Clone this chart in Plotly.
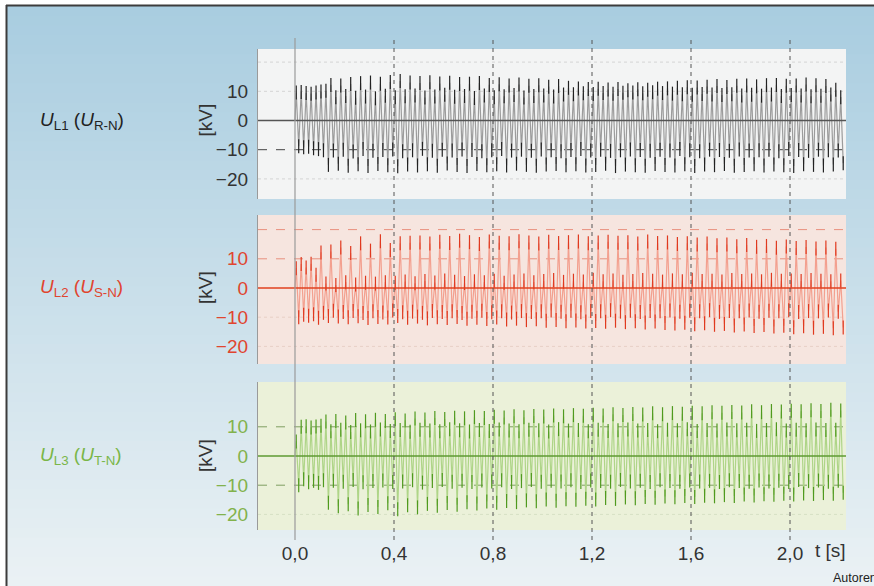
import plotly.graph_objects as go

# ---------------- data ----------------
CYCLE = 0.02  # s, one 50 Hz period

x_tickvals = [0.0, 0.4, 0.8, 1.2, 1.6, 2.0]
x_ticktext = ["0,0", "0,4", "0,8", "1,2", "1,6", "2,0"]
y_tickvals = [-20, -10, 0, 10]
y_ticktext = ["−20", "−10", "0", "10"]

labels = ["<i>U</i><sub>L1</sub> (<i>U</i><sub>R-N</sub>)",
          "<i>U</i><sub>L2</sub> (<i>U</i><sub>S-N</sub>)",
          "<i>U</i><sub>L3</sub> (<i>U</i><sub>T-N</sub>)"]

# per-cycle positive peaks and negative troughs [kV]
pk1 = [9.6, 9.8, 9.4, 9.2, 9.6, 9.9, 10.2,
       12.2, 8.0, 12.0, 8.4, 12.5, 7.8, 12.8, 8.2, 13.0, 7.6,
       12.6, 8.5, 13.2, 8.0, 13.5, 8.3, 13.0, 8.6, 12.8, 7.9,
       13.1, 8.2, 12.7, 8.8, 12.9, 8.1, 12.5, 8.4, 12.6, 7.7,
       12.8, 8.6, 12.2, 8.0, 12.4, 8.3, 12.0, 8.7, 12.3, 7.9,
       11.9, 8.4, 12.1, 8.6, 11.6, 8.2, 11.8, 8.9, 11.2, 9.0,
       11.0, 9.3, 10.8, 9.1, 10.9, 9.4, 10.6, 9.2, 10.8, 9.5,
       10.4, 9.6, 10.7, 9.3, 10.5, 9.7, 10.9, 9.4, 11.0, 9.2,
       11.2, 9.0, 11.4, 8.8, 11.3, 9.1, 11.6, 8.9, 11.8, 8.7,
       11.5, 9.0, 11.9, 8.6, 12.0, 8.8, 11.7, 8.5, 12.1, 8.9,
       12.2, 8.4, 11.9, 8.7, 12.0, 8.6, 12.3, 8.3, 12.1, 8.5,
       11.8, 8.9, 10.5, 8.0]
tr1 = [-8.8, -9.2, -9.0, -9.5, -9.8, -10.2,
       -15.2, -10.3, -14.8, -10.0, -15.5, -10.6, -15.0, -9.8, -15.6, -10.4,
       -14.9, -10.1, -15.3, -9.9, -15.7, -10.5, -15.1, -10.2, -15.4, -9.7,
       -15.0, -10.4, -15.5, -10.0, -14.7, -10.3, -15.2, -9.9, -15.6, -10.1,
       -14.9, -10.5, -15.3, -10.2, -15.0, -9.8, -15.4, -10.3, -14.8, -10.0,
       -15.2, -10.4, -15.5, -9.9, -15.1, -10.2, -14.9, -10.5, -15.3, -10.1,
       -15.0, -9.8, -15.4, -10.3, -15.2, -10.0, -14.8, -10.4, -15.6, -10.2,
       -15.1, -9.9, -15.3, -10.1, -15.5, -10.4, -14.9, -10.0, -15.2, -10.3,
       -15.4, -9.8, -15.0, -10.2, -15.6, -10.5, -15.1, -10.0, -15.3, -10.1,
       -14.9, -10.4, -15.5, -9.9, -15.2, -10.3, -15.0, -10.2, -15.4, -10.0,
       -15.1, -10.5, -15.3, -9.8, -15.6, -10.1, -15.0, -10.4, -15.2, -10.0,
       -15.4, -10.2, -15.1, -10.3, -14.6]

pk2 = [6.8, 8.2, 7.0, 8.3, 4.5,
       12.2, 1.5, 12.5, 1.0, 13.9, 2.0, 12.0, 1.2, 15.3, 1.8,
       12.8, 1.5, 16.0, 2.0, 13.0, 1.8, 15.3, 2.2, 15.5, 1.6,
       15.6, 2.4, 15.2, 1.9, 15.8, 2.6, 15.4, 2.1, 16.2, 1.7,
       15.7, 2.3, 15.1, 2.0, 15.9, 2.5, 15.5, 1.8, 15.3, 2.2,
       16.0, 2.6, 15.6, 2.0, 15.2, 2.4, 15.8, 2.7, 15.4, 2.1,
       15.7, 2.5, 15.9, 2.2, 15.3, 2.8, 15.6, 2.3, 15.8, 2.6,
       15.5, 2.1, 15.7, 2.4, 15.2, 2.7, 15.9, 2.5, 15.4, 2.2,
       15.6, 2.6, 15.1, 2.3, 15.3, 2.8, 14.9, 2.4, 15.2, 2.5,
       14.6, 2.2, 14.9, 2.7, 14.3, 2.4, 14.7, 2.6, 14.1, 2.3,
       14.4, 2.8, 13.8, 2.5, 14.2, 2.6, 13.7, 2.4, 14.0, 2.7,
       13.5, 2.5, 13.9, 2.3, 13.4, 2.6]
tr2 = [-10.0, -9.2, -9.5, -9.0, -10.2,
       -8.5, -9.6, -7.8, -9.8, -8.2, -10.0, -7.9, -9.7, -8.6, -10.3,
       -8.0, -9.9, -8.4, -10.1, -7.7, -9.6, -8.3, -10.2, -8.1, -9.8,
       -8.5, -10.4, -7.9, -10.0, -8.2, -10.3, -8.0, -9.9, -8.6, -10.5,
       -8.1, -10.2, -7.8, -10.6, -8.3, -10.1, -8.0, -10.8, -8.4, -10.5,
       -7.9, -11.0, -8.2, -10.7, -8.0, -11.2, -7.7, -11.0, -8.1, -11.4,
       -7.8, -11.1, -8.3, -11.5, -7.9, -11.3, -8.0, -11.6, -7.6, -11.2,
       -8.1, -11.7, -7.8, -11.4, -8.2, -11.8, -7.9, -11.5, -8.0, -12.0,
       -7.7, -12.2, -8.1, -11.9, -7.8, -12.4, -8.0, -12.1, -7.6, -12.6,
       -8.2, -12.3, -7.9, -12.8, -8.0, -12.5, -7.7, -13.0, -8.1, -12.7,
       -7.8, -13.2, -8.0, -12.9, -7.6, -13.4, -8.2, -13.1, -7.9, -13.6,
       -8.0, -13.3, -7.7, -13.8, -8.1, -13.5]

pk3 = [5.0, 10.0, 10.2, 9.8, 10.1, 10.4,
       11.8, 8.5, 12.0, 9.0, 11.5, 8.2, 12.3, 8.8, 11.9, 8.4,
       12.4, 9.1, 12.0, 8.6, 12.6, 8.9, 12.2, 8.3, 12.8, 9.0,
       12.5, 8.7, 13.0, 8.5, 12.7, 9.2, 13.1, 8.8, 12.9, 8.4,
       13.3, 8.9, 13.0, 8.6, 13.4, 9.1, 13.2, 8.7, 13.6, 8.5,
       13.3, 9.0, 13.7, 8.8, 13.5, 8.4, 13.9, 9.2, 13.6, 8.7,
       14.0, 8.9, 13.8, 8.5, 14.1, 9.0, 13.9, 8.6, 14.3, 8.8,
       14.0, 9.1, 14.4, 8.7, 14.2, 8.9, 14.6, 8.5, 14.3, 9.0,
       14.7, 8.8, 14.5, 9.2, 14.8, 8.6, 14.6, 8.9, 15.0, 8.7,
       14.8, 9.1, 15.1, 8.8, 14.9, 9.0, 15.3, 8.6, 15.0, 8.9,
       15.4, 9.2, 15.2, 8.7, 15.5, 9.0, 15.3, 8.8, 15.7, 9.1,
       15.4, 8.9, 15.8, 9.0, 15.6]
tr3 = [-10.0, -8.0, -9.0, -8.5, -9.2, -8.3,
       -16.0, -8.5, -17.2, -8.8, -16.5, -8.2, -18.0, -9.0, -16.8, -8.6,
       -17.5, -8.4, -16.2, -8.9, -18.2, -8.7, -16.9, -8.3, -17.6, -9.1,
       -16.4, -8.6, -17.0, -8.2, -16.1, -8.8, -16.7, -8.5, -15.8, -8.9,
       -16.3, -8.4, -15.6, -8.7, -16.0, -8.3, -15.4, -8.9, -15.8, -8.6,
       -15.2, -8.2, -15.5, -8.8, -14.9, -8.5, -15.3, -8.7, -14.8, -8.3,
       -15.0, -8.9, -14.6, -8.4, -14.9, -8.6, -14.4, -8.8, -14.7, -8.2,
       -14.2, -8.7, -14.5, -8.5, -14.0, -8.9, -14.3, -8.3, -13.9, -8.6,
       -14.1, -8.8, -13.7, -8.4, -14.0, -8.7, -13.6, -8.5, -13.8, -8.9,
       -13.4, -8.3, -13.7, -8.6, -13.2, -8.8, -13.5, -8.4, -13.1, -8.7,
       -13.3, -8.5, -12.9, -8.9, -13.2, -8.2, -12.8, -8.6, -13.0, -8.4,
       -12.7, -8.8, -12.9, -8.5, -12.6]

# ---------------- layout geometry / styles ----------------
W, H = 874, 586
PX_LEFT, PX_RIGHT = 258, 846
PX_T0, PX_PER_S = 295, 247.5
panel_top = [49, 215, 382]
panel_bot = [199, 364, 530]
panel_zero = [120.5, 288, 456]
PX_PER_KV = 2.92

panel_bg = ["#f3f4f4", "#f6e5df", "#ebf1d9"]
line_col = ["#9c9c9c", "#f3a08f", "#afd588"]
tip_col = ["#222222", "#e0391f", "#4f9a1e"]
tick_col = ["#333333", "#e0452f", "#82b24c"]
label_col = ["#222222", "#e0452f", "#7ab648"]
zero_col = ["#555555", "#e0401f", "#5e9a32"]
dash_col = ["#444444", "#e8907e", "#7f9f62"]
faint_col = ["#d4d4d4", "#e8cfc6", "#d6e0c4"]
FONT = "Liberation Sans, Arial, sans-serif"


def py(p):
    return 1 - p / H


def px(p):
    return p / W


fig = go.Figure()

series = [(pk1, tr1), (pk2, tr2), (pk3, tr3)]
for k, (pk, tr) in enumerate(series):
    xs, ys = [0.0], [0.0]
    for i in range(len(pk)):
        xs += [i * CYCLE + 0.005, i * CYCLE + 0.015]
        ys += [pk[i], tr[i]]
    yname = "y" if k == 0 else f"y{k + 1}"
    fig.add_trace(go.Scatter(x=xs, y=ys, mode="lines", xaxis="x", yaxis=yname,
                             line=dict(color=line_col[k], width=1.2),
                             hoverinfo="skip", showlegend=False))
    fig.add_trace(go.Scatter(x=xs[1:], y=ys[1:], mode="markers", xaxis="x", yaxis=yname,
                             marker=dict(symbol="line-ns", size=10,
                                         line=dict(color=tip_col[k], width=1.2)),
                             hoverinfo="skip", showlegend=False))

shapes = []
# background gradient (stripes)
top_rgb = (169, 205, 224)
bot_rgb = (234, 241, 244)
NS = 60
y_start, y_end = 6, H
for s in range(NS):
    f = s / (NS - 1)
    c = tuple(int(round(top_rgb[j] + (bot_rgb[j] - top_rgb[j]) * f)) for j in range(3))
    y0 = y_start + (y_end - y_start) * s / NS
    y1 = y_start + (y_end - y_start) * (s + 1) / NS + 0.6
    shapes.append(dict(type="rect", xref="paper", yref="paper", layer="below",
                       x0=px(7), x1=1.0, y0=py(min(y1, H)), y1=py(y0),
                       fillcolor="rgb(%d,%d,%d)" % c, line=dict(width=0)))
# frame
shapes.append(dict(type="line", xref="paper", yref="paper", layer="above",
                   x0=px(6), x1=1.0, y0=py(5.5), y1=py(5.5),
                   line=dict(color="#3c3c3c", width=2)))
shapes.append(dict(type="line", xref="paper", yref="paper", layer="above",
                   x0=px(6.5), x1=px(6.5), y0=0, y1=py(5),
                   line=dict(color="#3c3c3c", width=2)))

layout_axes = {}
for k in range(3):
    yname = "y" if k == 0 else f"y{k + 1}"
    ax = "yaxis" if k == 0 else f"yaxis{k + 1}"
    rng = [-(panel_bot[k] - panel_zero[k]) / PX_PER_KV, (panel_zero[k] - panel_top[k]) / PX_PER_KV]
    layout_axes[ax] = dict(domain=[py(panel_bot[k]), py(panel_top[k])], range=rng, anchor="x",
                           tickvals=y_tickvals, ticktext=y_ticktext, showgrid=False, zeroline=False,
                           showline=True, linecolor="#9a9a9a", linewidth=1.2, ticks="",
                           ticklabelstandoff=5,
                           tickfont=dict(family=FONT, size=19, color=tick_col[k]))
    # panel background
    shapes.append(dict(type="rect", xref="x domain", yref=f"{yname} domain", layer="below",
                       x0=0, x1=1, y0=0, y1=1, fillcolor=panel_bg[k], line=dict(width=0)))
    # grid lines
    grid = [
        (20, faint_col[k] if k != 1 else dash_col[k], "dot" if k != 1 else "dash", 1),
        (10, faint_col[k] if k == 0 else dash_col[k], "dot" if k == 0 else "dash", 1),
        (-10, dash_col[k] if k != 1 else faint_col[k], "dash" if k != 1 else "dot", 1),
        (-20, faint_col[k], "dot", 1),
    ]
    if k == 2:
        grid[0] = (20, faint_col[k], "dot", 0)
    for val, col, dash, wdt in grid:
        if wdt == 0:
            continue
        shapes.append(dict(type="line", xref="x domain", yref=yname, layer="below",
                           x0=0, x1=1, y0=val, y1=val, line=dict(color=col, width=wdt, dash=dash)))
    shapes.append(dict(type="line", xref="x domain", yref=yname, layer="above",
                       x0=0, x1=1, y0=0, y1=0, line=dict(color=zero_col[k], width=1.6)))

# vertical time lines
shapes.append(dict(type="line", xref="x", yref="paper", layer="above",
                   x0=0, x1=0, y0=py(540), y1=py(38), line=dict(color="#9a9a9a", width=1.2)))
for v in x_tickvals[1:]:
    shapes.append(dict(type="line", xref="x", yref="paper", layer="above",
                       x0=v, x1=v, y0=py(540), y1=py(38),
                       line=dict(color="#555555", width=1, dash="4px,4px")))

annotations = []
for k in range(3):
    annotations.append(dict(text=labels[k], xref="paper", yref="paper", x=px(38), y=py(panel_zero[k]),
                            xanchor="left", yanchor="middle", showarrow=False,
                            font=dict(family=FONT, size=19, color=label_col[k])))
    annotations.append(dict(text="[kV]", xref="paper", yref="paper", x=px(205), y=py(panel_zero[k]),
                            xanchor="center", yanchor="middle", showarrow=False, textangle=-90,
                            font=dict(family=FONT, size=19, color="#333333")))
annotations.append(dict(text="t [s]", xref="paper", yref="paper", x=px(830), y=py(550),
                        xanchor="center", yanchor="middle", showarrow=False,
                        font=dict(family=FONT, size=19, color="#333333")))
annotations.append(dict(text="Autoren", xref="paper", yref="paper", x=px(831), y=py(578),
                        xanchor="left", yanchor="middle", showarrow=False,
                        font=dict(family=FONT, size=12.5, color="#222222")))

x_range = [-(PX_T0 - PX_LEFT) / PX_PER_S, (PX_RIGHT - PX_T0) / PX_PER_S]
fig.update_layout(
    width=W, height=H, margin=dict(l=0, r=0, t=0, b=0),
    paper_bgcolor="white", plot_bgcolor="rgba(0,0,0,0)",
    showlegend=False,
    xaxis=dict(domain=[px(PX_LEFT), px(PX_RIGHT)], range=x_range, anchor="y3",
               tickvals=x_tickvals, ticktext=x_ticktext, showgrid=False, zeroline=False,
               showline=False, ticks="", ticklabelstandoff=10,
               tickfont=dict(family=FONT, size=19, color="#333333")),
    shapes=shapes, annotations=annotations,
    **layout_axes,
)

fig.write_html("out.html", config={"displayModeBar": False},
               post_script="document.body.style.margin='0';document.body.style.overflow='hidden';")
